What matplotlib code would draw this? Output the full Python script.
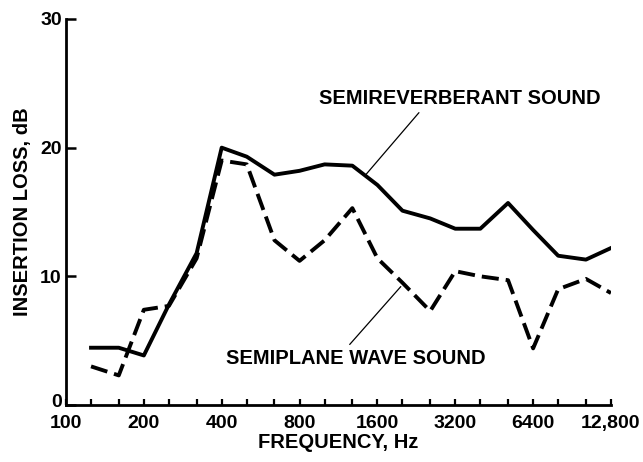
import matplotlib
matplotlib.use("Agg")
import matplotlib.pyplot as plt
import matplotlib.transforms as mtransforms
from matplotlib.ticker import FixedLocator, NullFormatter

# third-octave band centres (Hz), nominal as labelled on the chart
freq = [125, 160, 200, 250, 320, 400, 500, 640, 800, 1000, 1280, 1600,
        2000, 2560, 3200, 4000, 5120, 6400, 8000, 10240, 12800]

# insertion loss, dB
semireverberant = [4.45, 4.45, 3.85, 7.8, 11.8, 20.0, 19.3, 17.9, 18.2, 18.7, 18.6,
                   17.1, 15.1, 14.5, 13.7, 13.7, 15.7, 13.6, 11.6, 11.3, 12.2]
semiplane = [3.0, 2.3, 7.4, 7.7, 11.4, 19.0, 18.7, 12.8, 11.2, 12.8, 15.3,
             11.4, 9.5, 7.3, 10.4, 10.0, 9.7, 4.4, 9.0, 9.8, 8.7]

octave_ticks = [100, 200, 400, 800, 1600, 3200, 6400, 12800]
octave_labels = ["100", "200", "400", "800", "1600", "3200", "6400", "12,800"]
y_ticks = [0, 10, 20, 30]

plt.rcParams['font.family'] = ['Liberation Sans', 'DejaVu Sans']
plt.rcParams['font.weight'] = 'bold'

fig = plt.figure(figsize=(6.43, 4.62), dpi=100)
ax = fig.add_axes([0.1026, 0.1234, 0.8476, 0.8355])

ax.plot(freq, semireverberant, color='black', lw=2.8)
ax.plot(freq, semiplane, color='black', lw=2.8, dashes=(4.4, 1.8))

ax.set_xscale('log', base=2)
ax.set_xlim(100, 12800)
ax.set_ylim(0, 30)

ax.xaxis.set_major_locator(FixedLocator(octave_ticks))
ax.set_xticklabels(octave_labels)
ax.xaxis.set_minor_locator(FixedLocator([100] + freq))
ax.xaxis.set_minor_formatter(NullFormatter())
ax.set_yticks(y_ticks)

for s in ['top', 'right']:
    ax.spines[s].set_visible(False)
for s in ['left', 'bottom']:
    ax.spines[s].set_linewidth(2.0)

ax.tick_params(axis='x', which='both', direction='in', length=4.5, width=1.6,
               labelsize=14, pad=7)
ax.tick_params(axis='y', direction='in', length=7, width=1.8, labelsize=14, pad=3)

# nudge the "0" label up so it clears "100"
zero = ax.get_yticklabels()[0]
zero.set_transform(zero.get_transform() +
                   mtransforms.ScaledTranslation(0, 3 / 72, fig.dpi_scale_trans))

ax.set_xlabel('FREQUENCY, Hz', fontsize=14.5, fontweight='bold', labelpad=1)
ax.set_ylabel('INSERTION LOSS, dB', fontsize=14.5, fontweight='bold', labelpad=6)

ax.annotate('SEMIREVERBERANT SOUND', xy=(1443, 17.9), xytext=(3330, 23.1),
            fontsize=14.5, fontweight='bold', ha='center', va='bottom',
            arrowprops=dict(arrowstyle='-', color='black', lw=0.9,
                            shrinkA=2, shrinkB=0, relpos=(0.37, 0.0)))
ax.annotate('SEMIPLANE WAVE SOUND', xy=(1970, 9.2), xytext=(1320, 2.85),
            fontsize=14.5, fontweight='bold', ha='center', va='bottom',
            arrowprops=dict(arrowstyle='-', color='black', lw=0.9,
                            shrinkA=2, shrinkB=0, relpos=(0.46, 1.0)))

fig.savefig('out.png', dpi=100)
